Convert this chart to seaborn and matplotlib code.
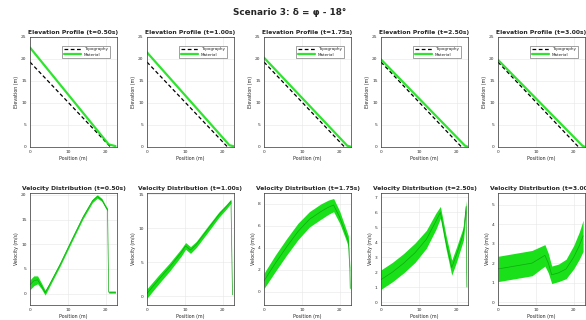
import matplotlib
matplotlib.use("Agg")
import matplotlib.pyplot as plt
import seaborn as sns

# snapshot times shown in the panel titles
times = ["0.50", "1.00", "1.75", "2.50", "3.00"]

# topography (same in every panel)
topo_x = [0.0, 21.3]
topo_y = [19.3, 0.0]

# material surface per snapshot
mat_x = [
    [0.0, 20.8, 22.6],
    [0.0, 21.8, 22.8],
    [0.0, 22.0, 22.8],
    [0.0, 22.2, 22.8],
    [0.0, 22.3, 22.8],
]
mat_y = [
    [22.6, 0.6, 0.2],
    [21.5, 0.4, 0.2],
    [20.3, 0.3, 0.1],
    [19.9, 0.3, 0.1],
    [19.8, 0.3, 0.1],
]

# velocity distribution per snapshot: position, centre value, half band width
vel_x = [
    [0.0, 1.0, 2.0, 3.0, 4.0, 5.0, 8.0, 11.0, 14.0, 16.5, 17.8, 19.0, 20.0, 20.5, 20.8, 22.6],
    [0.0, 3.0, 6.0, 9.0, 10.2, 11.5, 13.0, 16.0, 19.0, 21.0, 22.2, 22.4, 22.6],
    [0.0, 3.0, 6.0, 9.0, 12.0, 15.0, 17.0, 18.4, 20.0, 21.5, 22.3, 22.7, 22.8],
    [0.0, 3.0, 6.0, 9.0, 12.0, 14.5, 15.7, 17.2, 18.7, 20.0, 21.8, 22.5, 22.6, 22.7],
    [0.0, 3.0, 6.0, 9.0, 12.4, 13.3, 14.2, 16.0, 18.0, 20.0, 21.5, 22.5],
]
vel_c = [
    [1.8, 2.6, 2.8, 1.6, 0.2, 1.6, 6.0, 10.8, 15.5, 18.8, 19.7, 19.0, 17.6, 17.0, 0.3, 0.3],
    [0.4, 2.4, 4.3, 6.4, 7.4, 6.8, 7.6, 9.8, 12.0, 13.2, 14.0, 7.0, 0.2],
    [1.0, 2.6, 4.1, 5.5, 6.6, 7.3, 7.7, 7.9, 6.8, 5.4, 4.6, 2.0, 0.3],
    [1.5, 2.0, 2.6, 3.3, 4.2, 5.4, 6.0, 4.0, 2.3, 3.2, 4.6, 6.4, 3.0, 1.0],
    [1.7, 1.8, 1.9, 2.0, 2.4, 2.0, 1.4, 1.5, 1.7, 2.3, 2.9, 3.4],
]
vel_w = [
    [1.0, 1.0, 0.8, 0.6, 0.5, 0.4, 0.35, 0.35, 0.35, 0.35, 0.35, 0.3, 0.3, 0.3, 0.2, 0.2],
    [0.7, 0.65, 0.6, 0.55, 0.5, 0.5, 0.45, 0.45, 0.4, 0.35, 0.3, 0.2, 0.2],
    [0.7, 0.75, 0.75, 0.75, 0.7, 0.7, 0.65, 0.6, 0.55, 0.5, 0.5, 0.3, 0.2],
    [0.65, 0.65, 0.65, 0.65, 0.6, 0.55, 0.4, 0.45, 0.5, 0.5, 0.45, 0.4, 0.3, 0.2],
    [0.65, 0.65, 0.65, 0.65, 0.55, 0.5, 0.45, 0.45, 0.5, 0.6, 0.7, 0.8],
]
vel_ylim = [(-2.3, 20.4), (-1.3, 15.2), (-1.2, 9.0), (-0.2, 7.3), (-0.15, 5.6)]
vel_ticks = [[0, 5, 10, 15, 20], [0, 5, 10, 15], [0, 2, 4, 6, 8],
             [0, 1, 2, 3, 4, 5, 6, 7], [0, 1, 2, 3, 4, 5]]

sns.set_theme(style="whitegrid")
plt.rcParams['font.family'] = ['DejaVu Sans']

GREEN = "#19e019"
fig = plt.figure(figsize=(5.86, 3.2), dpi=100)
W, H = 586.0, 320.0
lefts = [30, 147, 264, 381, 498]
aw = 87

def style(ax):
    ax.set_facecolor("white")
    ax.grid(True, color="#e6e6e6", linewidth=0.4)
    for s in ax.spines.values():
        s.set_color("#333333")
        s.set_linewidth(0.5)
    ax.tick_params(labelsize=3.2, length=1.2, width=0.4, pad=1.2, colors="#333333")
    ax.xaxis.label.set_size(3.4)
    ax.yaxis.label.set_size(3.4)
    ax.xaxis.labelpad = 1
    ax.yaxis.labelpad = 1.5

for i in range(5):
    # elevation profile
    ax = fig.add_axes([lefts[i] / W, 1 - 147 / H, aw / W, 110 / H])
    sns.lineplot(x=topo_x, y=topo_y, ax=ax, color="black", linestyle=(0, (3, 2)),
                 linewidth=0.9, label="Topography")
    sns.lineplot(x=mat_x[i], y=mat_y[i], ax=ax, color=GREEN, linewidth=1.6,
                 alpha=0.9, label="Material")
    ax.set_xlim(0, 23)
    ax.set_ylim(0, 25)
    ax.set_xticks([0, 10, 20])
    ax.set_yticks([0, 5, 10, 15, 20, 25])
    ax.set_xlabel("Position (m)")
    ax.set_ylabel("Elevation (m)")
    ax.set_title(f"Elevation Profile (t={times[i]}s)", fontsize=4.3,
                 fontweight="bold", pad=2)
    style(ax)
    ax.legend(loc="upper right", fontsize=3.0, frameon=True, fancybox=False,
              edgecolor="#333333", handlelength=4, borderpad=0.4,
              labelspacing=0.3, bbox_to_anchor=(0.94, 0.94)).get_frame().set_linewidth(0.4)

    # velocity distribution
    ax = fig.add_axes([lefts[i] / W, 1 - 305 / H, aw / W, 112 / H])
    lo = [c - w for c, w in zip(vel_c[i], vel_w[i])]
    hi = [c + w for c, w in zip(vel_c[i], vel_w[i])]
    ax.fill_between(vel_x[i], lo, hi, color=GREEN, linewidth=0)
    sns.lineplot(x=vel_x[i], y=vel_c[i], ax=ax, color="#12a812", linewidth=0.5,
                 sort=False)
    ax.set_xlim(0, 23)
    ax.set_ylim(*vel_ylim[i])
    ax.set_xticks([0, 10, 20])
    ax.set_yticks(vel_ticks[i])
    ax.set_xlabel("Position (m)")
    ax.set_ylabel("Velocity (m/s)")
    ax.set_title(f"Velocity Distribution (t={times[i]}s)", fontsize=4.3,
                 fontweight="bold", pad=2)
    style(ax)

fig.suptitle("Scenario 3: δ = φ - 18°", x=0.495, y=0.975, fontsize=6.4,
             fontweight="bold")
fig.savefig("out.png", dpi=100, facecolor="white")
